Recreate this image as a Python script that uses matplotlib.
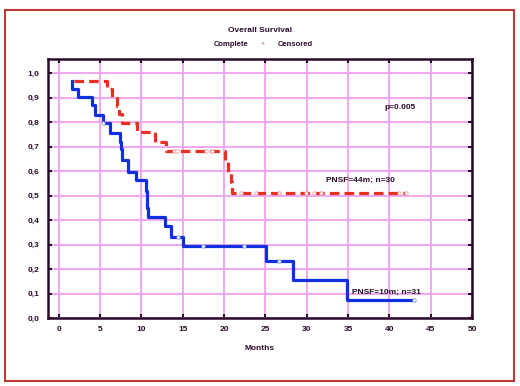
import numpy as np
import matplotlib.pyplot as plt
from matplotlib.patches import Rectangle

plt.rcParams['font.family'] = ['Liberation Sans', 'DejaVu Sans']

# Kaplan-Meier, grupo com resposta completa (vermelho, tracejado)
red_t = [1.9, 5.8, 6.5, 7.0, 7.3, 7.6, 9.5, 11.6, 13.0, 20.1, 20.5, 20.8, 21.0, 42.0]
red_s = [0.967, 0.933, 0.9, 0.867, 0.833, 0.797, 0.76, 0.72, 0.683, 0.64, 0.597, 0.554, 0.511, 0.511]
red_cens_t = [13.9, 14.3, 17.8, 18.6, 22.1, 23.9, 26.7, 29.9, 30.9, 31.7, 41.2, 42.0]
red_cens_s = [0.683, 0.683, 0.683, 0.683, 0.511, 0.511, 0.511, 0.511, 0.511, 0.511, 0.511, 0.511]

# grupo azul (linha continua)
blue_t = [1.6, 1.65, 2.3, 4.0, 4.35, 5.3, 6.2, 7.4, 7.55, 7.7, 8.4, 9.4, 10.5, 10.7, 10.8,
          12.9, 13.6, 15.0, 25.1, 28.3, 34.9, 43.0]
blue_s = [0.968, 0.935, 0.903, 0.871, 0.829, 0.795, 0.754, 0.72, 0.69, 0.645, 0.597, 0.563,
          0.52, 0.45, 0.413, 0.376, 0.332, 0.294, 0.233, 0.155, 0.073, 0.073]
blue_cens_t = [5.3, 14.4, 17.4, 22.4, 26.7, 43.0]
blue_cens_s = [0.795, 0.332, 0.294, 0.294, 0.233, 0.073]

xticks = np.arange(0, 51, 5)
yticks = np.round(np.arange(0, 1.01, 0.1), 1)
ytick_labels = [f"{v:.1f}".replace(".", ",") for v in yticks]

txt_color = '#2a0a2a'
grid_color = '#f0a0f0'

fig = plt.figure(figsize=(5.2, 3.86), dpi=100)
ax = fig.add_axes([0.0923, 0.176, 0.8154, 0.671])

ax.step(red_t, red_s, where='post', color='#e83020', lw=2.3, linestyle=(0, (3, 1.6)))
ax.step(blue_t, blue_s, where='post', color='#1030e0', lw=2.3)
ax.plot(red_cens_t, red_cens_s, 'o', ms=2.5, mfc='white', mec='#e89090', mew=0.5)
ax.plot(blue_cens_t, blue_cens_s, 'o', ms=2.5, mfc='white', mec='#8090e0', mew=0.5)

ax.set_xlim(-1.3, 50)
ax.set_ylim(0, 1.057)
ax.set_xticks(xticks)
ax.set_yticks(yticks)
ax.set_yticklabels(ytick_labels)
ax.grid(color=grid_color, lw=1.3)
ax.set_axisbelow(True)
ax.tick_params(direction='in', length=3, width=1.5, color=txt_color,
               top=True, right=True, labelsize=6, labelcolor=txt_color, pad=6)
for lbl in ax.get_xticklabels() + ax.get_yticklabels():
    lbl.set_fontweight('bold')
for sp in ax.spines.values():
    sp.set_color(txt_color)
    sp.set_linewidth(1.8)

ax.set_xlabel("Months", fontsize=6, fontweight='bold', color=txt_color, labelpad=8)

ax.text(39.4, 0.858, "p=0.005", fontsize=6, fontweight='bold', color=txt_color, va='center')
ax.text(32.3, 0.563, "PNSF=44m; n=30", fontsize=6, fontweight='bold', color=txt_color, va='center')
ax.text(35.5, 0.103, "PNSF=10m; n=31", fontsize=6, fontweight='bold', color=txt_color, va='center')

fig.text(0.5, 0.92, "Overall Survival", ha='center', va='center', fontsize=6,
         fontweight='bold', color=txt_color)
fig.text(0.445, 0.885, "Complete", ha='center', va='center', fontsize=5.5,
         fontweight='bold', color=txt_color)
fig.text(0.506, 0.885, "+", ha='center', va='center', fontsize=5, color='#e06060')
fig.text(0.567, 0.885, "Censored", ha='center', va='center', fontsize=5.5,
         fontweight='bold', color=txt_color)

# moldura externa
fig.patches.append(Rectangle((0.01, 0.013), 0.978, 0.962, transform=fig.transFigure,
                             fill=False, edgecolor='#c03838', lw=1.5))

fig.savefig("out.png", dpi=100)
